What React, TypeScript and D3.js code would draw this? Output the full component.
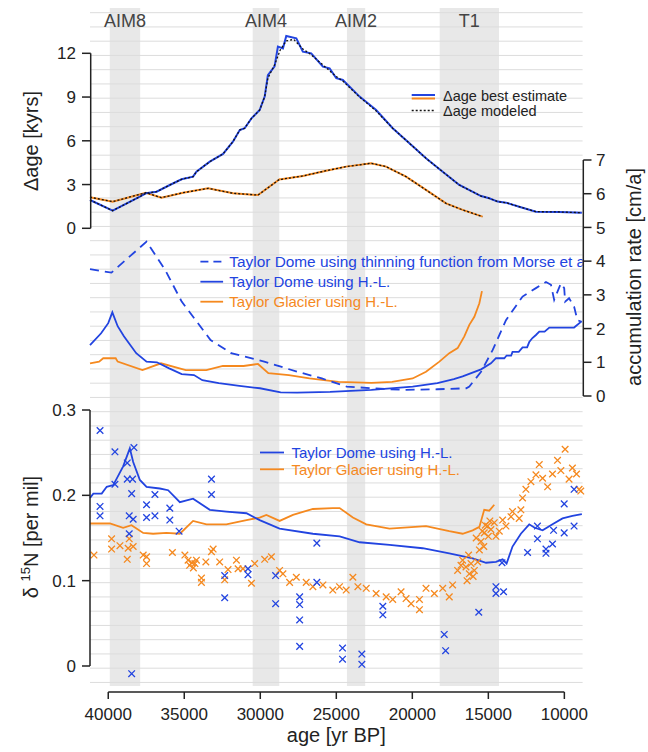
import * as d3 from 'd3'

const BLUE = '#2244e0'
const ORANGE = '#f5891f'

// age [yr BP], value
const bands = [
  { name: 'AIM8', from: 39900, to: 37900 },
  { name: 'AIM4', from: 30500, to: 28750 },
  { name: 'AIM2', from: 24300, to: 23100 },
  { name: 'T1', from: 18200, to: 14300 },
]

const xTicks = [40000, 35000, 30000, 25000, 20000, 15000, 10000]
const dageTicks = [0, 3, 6, 9, 12]
const accTicks = [0, 1, 2, 3, 4, 5, 6, 7]
const d15nTicks = [0, 0.1, 0.2, 0.3]

// top panel: delta age [kyrs]
const dageTD = [
  [41200, 1.94], [39710, 1.21], [37920, 2.17], [37525, 2.4], [36820, 2.51], [35950, 2.97],
  [35180, 3.36], [34420, 3.54], [34200, 3.88], [33320, 4.57], [32450, 5.1], [31800, 5.94],
  [31350, 6.74], [31030, 6.86], [30580, 7.54], [30040, 8.11], [29710, 9.03], [29500, 10.5],
  [29060, 11.1], [28840, 12.46], [28510, 12.34], [28290, 13.19], [27630, 13.03], [27200, 12.11],
  [26650, 12.0], [25880, 11.08], [25440, 10.97], [25000, 10.29], [24570, 10.17], [23470, 9.03],
  [22380, 8.11], [21290, 6.86], [20190, 5.83], [19100, 4.8], [18000, 3.88], [16910, 2.97],
  [15480, 2.21], [14940, 2.06], [14390, 1.83], [13840, 1.76], [12970, 1.48], [11870, 1.14],
  [10340, 1.12], [8850, 1.07],
]
const dageTDmodel = [
  [41200, 1.94], [39710, 1.21], [37920, 2.17], [37525, 2.4], [36820, 2.51], [35950, 2.97],
  [35180, 3.36], [34420, 3.54], [34200, 3.88], [33320, 4.57], [32450, 5.1], [31800, 5.94],
  [31350, 6.74], [31030, 6.86], [30580, 7.54], [30040, 8.11], [29710, 9.03], [29500, 10.3],
  [29060, 11.2], [28700, 12.2], [28300, 12.85], [27800, 12.95], [27200, 12.3], [26650, 11.9],
  [25880, 11.2], [25000, 10.4], [24570, 10.1], [23470, 9.0], [22380, 8.05], [21290, 6.86],
  [20190, 5.83], [19100, 4.8], [18000, 3.88], [16910, 2.97], [15480, 2.21], [14940, 2.06],
  [14390, 1.83], [13840, 1.76], [12970, 1.48], [11870, 1.14], [10340, 1.12], [8850, 1.07],
]
const dageTG = [
  [41200, 2.13], [39710, 1.83], [37525, 2.44], [36500, 2.1], [35080, 2.44], [33430, 2.74],
  [31790, 2.4], [30150, 2.28], [28730, 3.36], [28620, 3.36], [27200, 3.59], [25670, 3.95],
  [24350, 4.23], [22710, 4.46], [21730, 4.23], [20410, 3.54], [19100, 2.63], [17780, 1.71],
  [16690, 1.26], [15380, 0.8],
]

// middle panel: accumulation rate [cm/a]
const accTDMorse = [
  [41200, 3.76], [39790, 3.66], [37480, 4.58], [36260, 3.74], [35170, 2.8], [33270, 1.66],
  [31920, 1.27], [29740, 1.02], [27570, 0.72], [25950, 0.52], [24320, 0.28], [22690, 0.23],
  [20520, 0.18], [18350, 0.2], [16450, 0.23], [16250, 0.28], [15480, 0.72], [14720, 1.36],
  [13840, 2.25], [12750, 2.95], [11870, 3.2], [11210, 3.38], [10880, 3.3], [10670, 2.85],
  [10230, 3.34], [10010, 3.2], [9950, 2.8], [9690, 2.9], [9360, 2.65], [9140, 2.25], [8850, 2.2],
]
const accTDHL = [
  [41200, 1.51], [40470, 1.86], [40000, 2.16], [39730, 2.48], [39380, 2.07], [38970, 1.77],
  [38160, 1.27], [37480, 1.02], [36800, 1.0], [35990, 0.82], [35170, 0.65], [34360, 0.62],
  [33810, 0.47], [32730, 0.38], [31370, 0.3], [30020, 0.23], [28660, 0.11], [27580, 0.1],
  [25410, 0.12], [22690, 0.18], [19980, 0.28], [18350, 0.38], [17270, 0.5], [16690, 0.58],
  [15480, 0.79], [14830, 0.97], [14500, 1.12], [13950, 1.12], [13800, 1.2], [13500, 1.2],
  [13410, 1.31], [13000, 1.31], [12750, 1.44], [12450, 1.44], [12310, 1.6], [12100, 1.72],
  [11870, 1.81], [11650, 1.91], [11300, 1.91], [10990, 2.03], [9360, 2.03], [8910, 2.2],
]
const accTGHL = [
  [41200, 0.97], [40600, 1.02], [40330, 1.12], [39510, 1.12], [39380, 1.02], [37750, 0.77],
  [36530, 0.97], [34900, 0.77], [33550, 0.77], [32460, 0.89], [31100, 0.89], [30150, 0.95],
  [29470, 0.68], [28120, 0.62], [26760, 0.52], [24860, 0.42], [22690, 0.39], [21330, 0.42],
  [19980, 0.52], [19100, 0.72], [18220, 1.02], [17570, 1.27], [17020, 1.42], [16580, 1.77],
  [16250, 2.11], [15920, 2.35], [15590, 2.75], [15420, 3.11],
]

// bottom panel: d15N [per mil]
const d15nTD = [
  [41200, 0.197], [40980, 0.202], [40430, 0.202], [40100, 0.21], [39670, 0.212], [39020, 0.234],
  [38580, 0.255], [38360, 0.239], [37920, 0.218], [37480, 0.21], [36610, 0.208], [36060, 0.206],
  [35290, 0.192], [34420, 0.196], [33320, 0.183], [32230, 0.181], [30910, 0.179], [30040, 0.171],
  [28730, 0.161], [26540, 0.155], [24780, 0.152], [23470, 0.145], [21500, 0.142], [19320, 0.138],
  [17570, 0.132], [16030, 0.126], [15150, 0.121], [14500, 0.122], [14060, 0.125], [13800, 0.12],
  [13410, 0.14], [12860, 0.155], [12310, 0.166], [11950, 0.162], [11430, 0.159], [10780, 0.166],
  [10120, 0.173], [9470, 0.176], [8850, 0.178],
]
const d15nTG = [
  [41200, 0.167], [39890, 0.167], [39020, 0.162], [38470, 0.165], [37700, 0.156], [37050, 0.155],
  [36170, 0.156], [35290, 0.155], [34420, 0.17], [33540, 0.166], [32230, 0.166], [30910, 0.171],
  [30040, 0.174], [29600, 0.177], [28730, 0.17], [27850, 0.177], [26540, 0.184], [25230, 0.185],
  [24780, 0.185], [23910, 0.174], [23030, 0.166], [21500, 0.161], [19100, 0.164], [17570, 0.158],
  [16690, 0.155], [16030, 0.159], [15590, 0.163], [15270, 0.183], [14940, 0.182], [14610, 0.189],
]
const d15nTDdata = [
  [40540, 0.276], [40540, 0.187], [40540, 0.176], [39560, 0.251], [39560, 0.213], [38750, 0.238],
  [38750, 0.219], [38400, 0.219], [38310, 0.256], [38460, 0.202], [38620, 0.176], [38360, 0.172],
  [38620, 0.155], [38460, -0.009], [37480, 0.189], [37480, 0.174], [36930, 0.201], [36930, 0.176],
  [35950, 0.185], [35950, 0.171], [35340, 0.158], [33210, 0.219], [33210, 0.201], [32340, 0.106],
  [32340, 0.08], [30810, 0.114], [30810, 0.107], [28990, 0.106], [28990, 0.073], [27410, 0.081],
  [27410, 0.072], [27410, 0.054], [27410, 0.023], [26280, 0.144], [26280, 0.098], [24590, 0.021],
  [24590, 0.008], [23320, 0.014], [23320, 0.002], [21940, 0.07], [21940, 0.06], [17900, 0.037],
  [17810, 0.018], [15630, 0.063], [14500, 0.093], [14500, 0.085], [14000, 0.087], [14100, 0.121],
  [12420, 0.133], [11770, 0.164], [11770, 0.149], [11210, 0.137], [11210, 0.132], [10780, 0.143],
  [10710, 0.159], [10010, 0.156], [10010, 0.19], [9360, 0.207], [9360, 0.164],
]
const d15nTGdata = [
  [40940, 0.13], [39780, 0.149], [39780, 0.137], [39230, 0.141], [38750, 0.125], [38690, 0.138],
  [38620, 0.149], [38360, 0.14], [37700, 0.13], [37480, 0.128], [37480, 0.12], [35780, 0.133],
  [34960, 0.13], [34750, 0.124], [34650, 0.118], [34500, 0.121], [34400, 0.115], [34300, 0.12],
  [34200, 0.124], [33870, 0.103], [33870, 0.098], [33580, 0.122], [33210, 0.134], [33100, 0.137],
  [32670, 0.122], [32340, 0.101], [32120, 0.113], [31570, 0.124], [31460, 0.114], [31140, 0.114],
  [30580, 0.097], [30370, 0.12], [29710, 0.125], [29270, 0.128], [28730, 0.112], [28510, 0.108],
  [28070, 0.098], [27630, 0.104], [26980, 0.098], [26540, 0.093], [25880, 0.095], [25230, 0.089],
  [24790, 0.093], [24350, 0.089], [23910, 0.104], [23580, 0.093], [23030, 0.091], [22380, 0.085],
  [21720, 0.081], [21290, 0.078], [20740, 0.087], [20410, 0.079], [20080, 0.073], [19530, 0.066],
  [19530, 0.078], [19100, 0.091], [18550, 0.085], [18000, 0.091], [17570, 0.081], [17350, 0.095],
  [17020, 0.112], [16690, 0.124], [16470, 0.116], [16250, 0.108], [16140, 0.12], [15920, 0.112],
  [15700, 0.122], [15590, 0.136], [15480, 0.146], [15270, 0.156], [15050, 0.164], [14830, 0.16],
  [14610, 0.168], [14500, 0.152], [14280, 0.158], [14060, 0.171], [13840, 0.164], [13510, 0.175],
  [13410, 0.181], [12970, 0.173], [12860, 0.183], [12750, 0.197], [12530, 0.207], [12200, 0.216],
  [11870, 0.224], [11650, 0.236], [11430, 0.22], [11100, 0.21], [10780, 0.225], [10450, 0.241],
  [10230, 0.229], [9950, 0.254], [9690, 0.219], [9470, 0.232], [9200, 0.225], [9030, 0.207],
  [8920, 0.205], [15800, 0.15], [15400, 0.158], [15200, 0.165], [15000, 0.152], [14900, 0.17],
  [15300, 0.14], [16300, 0.13], [16800, 0.118], [16000, 0.105], [16400, 0.1],
]

const x = d3.scaleLinear().domain([41200, 8800]).range([90, 582.6])
const yDage = d3.scaleLinear().domain([0, 12]).range([228.3, 53.3])
const yAcc = d3.scaleLinear().domain([0, 7]).range([396, 160])
const yN = d3.scaleLinear().domain([0, 0.3]).range([666, 410])

const gridY = d3.range(48).map(i => 12.7 + i * 14.25)
const cross = 'M-3.3,-3.3L3.3,3.3M-3.3,3.3L3.3,-3.3'

function App() {
  const lineOf = (y: d3.ScaleLinear<number, number>) =>
    d3.line<number[]>().x(d => x(d[0])).y(d => y(d[1]))
  const lDage = lineOf(yDage)
  const lAcc = lineOf(yAcc)
  const lN = lineOf(yN)
  const left = x.range()[0]
  const right = x.range()[1]

  return (
    <svg width={648} height={752} style={{ position: 'absolute', left: 0, top: 0 }}
      fontFamily="'Liberation Sans', Arial, sans-serif">
      <defs>
        <clipPath id="plotclip">
          <rect x={left} y={0} width={right - left} height={752} />
        </clipPath>
      </defs>
      {bands.map(b => (
        <rect key={b.name} x={x(b.from)} y={8} width={x(b.to) - x(b.from)} height={678} fill="#e8e8e8" />
      ))}
      {gridY.map(g => (
        <line key={g} x1={left} x2={right} y1={g} y2={g} stroke="#dcdcdc" strokeWidth={1} />
      ))}
      {bands.map(b => (
        <text key={b.name} x={(x(b.from) + x(b.to)) / 2} y={26.5} textAnchor="middle" fontSize={18} fill="#444">{b.name}</text>
      ))}

      {/* top panel */}
      <path d={lDage(dageTG)!} fill="none" stroke={ORANGE} strokeWidth={2} />
      <path d={lDage(dageTD)!} fill="none" stroke={BLUE} strokeWidth={2} />
      <path d={lDage(dageTG)!} fill="none" stroke="#111" strokeWidth={1.3} strokeDasharray="2,2" />
      <path d={lDage(dageTDmodel)!} fill="none" stroke="#111" strokeWidth={1.3} strokeDasharray="2,2" />
      <line x1={411.7} x2={435} y1={95} y2={95} stroke={BLUE} strokeWidth={2} />
      <line x1={411.7} x2={435} y1={98.5} y2={98.5} stroke={ORANGE} strokeWidth={2} />
      <text x={443} y={100.5} fontSize={14.5} fill="#222">Δage best estimate</text>
      <line x1={411.7} x2={435} y1={110.5} y2={110.5} stroke="#111" strokeWidth={1.5} strokeDasharray="2,2" />
      <text x={443} y={115.5} fontSize={14.5} fill="#222">Δage modeled</text>

      <line x1={90.7} x2={90.7} y1={yDage(12)} y2={yDage(0)} stroke="#222" strokeWidth={1.5} />
      {dageTicks.map(t => (
        <g key={t} transform={`translate(0,${yDage(t)})`}>
          <line x1={82} x2={90.7} stroke="#222" strokeWidth={1.5} />
          <text x={76} dy="0.36em" textAnchor="end" fontSize={17} fill="#222">{t}</text>
        </g>
      ))}
      <text transform={`translate(38,${141}) rotate(-90)`} textAnchor="middle" fontSize={20} fill="#222">Δage [kyrs]</text>

      {/* middle panel */}
      <path d={lAcc(accTGHL)!} fill="none" stroke={ORANGE} strokeWidth={1.8} />
      <path d={lAcc(accTDMorse)!} fill="none" stroke={BLUE} strokeWidth={1.8} strokeDasharray="9,6" />
      <path d={lAcc(accTDHL)!} fill="none" stroke={BLUE} strokeWidth={1.8} />
      <g clipPath="url(#plotclip)">
        <line x1={200.4} x2={223.1} y1={261.7} y2={261.7} stroke={BLUE} strokeWidth={1.8} strokeDasharray="8,5" />
        <text x={229.3} y={261.7} dy="0.36em" fontSize={15.4} fill={BLUE}>Taylor Dome using thinning function from Morse et al.</text>
        <line x1={200.4} x2={223.1} y1={281.7} y2={281.7} stroke={BLUE} strokeWidth={1.8} />
        <text x={229.3} y={281.7} dy="0.36em" fontSize={15} fill={BLUE}>Taylor Dome using H.-L.</text>
        <line x1={200.4} x2={223.1} y1={301.7} y2={301.7} stroke={ORANGE} strokeWidth={1.8} />
        <text x={229.3} y={301.7} dy="0.36em" fontSize={15} fill={ORANGE}>Taylor Glacier using H.-L.</text>
      </g>
      <line x1={583.3} x2={583.3} y1={yAcc(7)} y2={yAcc(0)} stroke="#222" strokeWidth={1.5} />
      {accTicks.map(t => (
        <g key={t} transform={`translate(0,${yAcc(t)})`}>
          <line x1={583.3} x2={591.5} stroke="#222" strokeWidth={1.5} />
          <text x={596} dy="0.36em" fontSize={17} fill="#222">{t}</text>
        </g>
      ))}
      <text transform={`translate(641,${277}) rotate(-90)`} textAnchor="middle" fontSize={20} fill="#222">accumulation rate [cm/a]</text>

      {/* bottom panel */}
      <path d={lN(d15nTG)!} fill="none" stroke={ORANGE} strokeWidth={1.8} />
      <path d={lN(d15nTD)!} fill="none" stroke={BLUE} strokeWidth={1.8} />
      {d15nTGdata.map((d, i) => (
        <path key={'o' + i} d={cross} transform={`translate(${x(d[0])},${yN(d[1])})`} stroke={ORANGE} strokeWidth={1.3} fill="none" />
      ))}
      {d15nTDdata.map((d, i) => (
        <path key={'b' + i} d={cross} transform={`translate(${x(d[0])},${yN(d[1])})`} stroke={BLUE} strokeWidth={1.3} fill="none" />
      ))}
      <line x1={260} x2={284} y1={452.5} y2={452.5} stroke={BLUE} strokeWidth={1.8} />
      <text x={291.5} y={452.5} dy="0.36em" fontSize={15} fill={BLUE}>Taylor Dome using H.-L.</text>
      <line x1={260} x2={284} y1={469.3} y2={469.3} stroke={ORANGE} strokeWidth={1.8} />
      <text x={291.5} y={469.3} dy="0.36em" fontSize={15} fill={ORANGE}>Taylor Glacier using H.-L.</text>

      <line x1={90} x2={90} y1={yN(0.3)} y2={yN(0)} stroke="#222" strokeWidth={1.5} />
      {d15nTicks.map(t => (
        <g key={t} transform={`translate(0,${yN(t)})`}>
          <line x1={82} x2={90} stroke="#222" strokeWidth={1.5} />
          <text x={76} dy="0.36em" textAnchor="end" fontSize={17} fill="#222">{t === 0 ? '0' : t.toFixed(1)}</text>
        </g>
      ))}
      <text transform={`translate(38,${537}) rotate(-90)`} textAnchor="middle" fontSize={20} fill="#222">
        δ <tspan fontSize={13} dy={-8}>15</tspan><tspan dy={8}>N [per mil]</tspan>
      </text>

      {/* x axis */}
      <line x1={x(40000)} x2={x(10000)} y1={692} y2={692} stroke="#222" strokeWidth={1.5} />
      {xTicks.map(t => (
        <g key={t} transform={`translate(${x(t)},692)`}>
          <line y1={0} y2={7} stroke="#222" strokeWidth={1.5} />
          <text y={28} textAnchor="middle" fontSize={17} fill="#222">{t}</text>
        </g>
      ))}
      <text x={(x(40000) + x(10000)) / 2} y={742} textAnchor="middle" fontSize={20} fill="#222">age [yr BP]</text>
    </svg>
  )
}

export default App
